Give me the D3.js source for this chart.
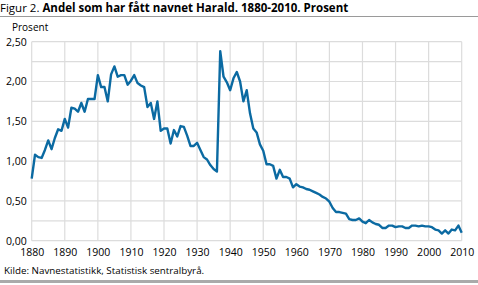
<!DOCTYPE html>
<html><head><meta charset="utf-8">
<script src="https://cdn.jsdelivr.net/npm/d3@7"></script>
<style>body{margin:0;background:#fff}svg{display:block}text{font-family:"Open Sans","Noto Sans",sans-serif}</style>
</head><body>
<script>
const startYear = 1880;
const values1880s = [0.78,1.08,1.05,1.04,1.14,1.26,1.15,1.29,1.40,1.38];
const values1890s = [1.53,1.42,1.67,1.66,1.62,1.73,1.62,1.78,1.78,1.78];
const values1900s = [2.08,1.93,1.93,1.75,2.09,2.19,2.06,2.08,2.08,1.96];
const values1910s = [2.01,2.08,1.98,1.95,1.93,1.68,1.73,1.53,1.75,1.38];
const values1920s = [1.41,1.41,1.22,1.39,1.31,1.44,1.43,1.32,1.19,1.19];
const values1930s = [1.23,1.14,1.05,1.02,0.95,0.90,0.87,2.38,2.06,1.99];
const values1940s = [1.89,2.04,2.12,2.00,1.75,1.89,1.60,1.41,1.36,1.21];
const values1950s = [1.13,0.96,0.96,0.94,0.78,0.89,0.80,0.80,0.78,0.67];
const values1960s = [0.71,0.68,0.67,0.65,0.64,0.62,0.60,0.58,0.55,0.53];
const values1970s = [0.49,0.41,0.36,0.36,0.35,0.34,0.27,0.26,0.26,0.28];
const values1980s = [0.24,0.22,0.26,0.23,0.21,0.20,0.16,0.16,0.19,0.19];
const values1990s = [0.17,0.18,0.18,0.16,0.16,0.19,0.19,0.18,0.19,0.18];
const values2000s = [0.18,0.17,0.14,0.13,0.09,0.13,0.09,0.14,0.13,0.19,0.10];
const yTickValues = [0,0.5,1,1.5,2,2.5];
const yGridValues = [0,0.25,0.5,0.75,1,1.25,1.5,1.75,2,2.25,2.5];
const xTickValues = [1880,1890,1900,1910,1920,1930,1940,1950,1960,1970,1980,1990,2000,2010];
const titlePrefix = "Figur 2. ";
const titleMain = "Andel som har fått navnet Harald. 1880-2010. Prosent";
const yLabel = "Prosent";
const sourceText = "Kilde: Navnestatistikk, Statistisk sentralbyrå.";

const allValues = [].concat(values1880s,values1890s,values1900s,values1910s,values1920s,values1930s,values1940s,values1950s,values1960s,values1970s,values1980s,values1990s,values2000s);
const data = allValues.map((v,i)=>({year:startYear+i, value:v}));

const W=478,H=285;
const svg=d3.select("body").append("svg").attr("width",W).attr("height",H);
const x=d3.scaleLinear().domain([1880,2010]).range([31.7,461.7]);
const y=d3.scaleLinear().domain([0,2.5]).range([240.7,41.7]);
const fmt=v=>d3.format(".2f")(v).replace(".",",");

// title
const t=svg.append("text").attr("x",0).attr("y",11.5).attr("font-size",11.5).attr("fill","#000");
t.append("tspan").text(titlePrefix);
t.append("tspan").attr("font-weight","bold").text(titleMain);
svg.append("line").attr("x1",0).attr("x2",W).attr("y1",16.5).attr("y2",16.5).attr("stroke","#9a9a9a").attr("stroke-width",1);

svg.append("text").attr("x",12).attr("y",31).attr("font-size",10).text(yLabel);

// grid
const g=svg.append("g");
g.selectAll(".hg").data(yGridValues).join("line")
  .attr("x1",x(1880)).attr("x2",x(2010)).attr("y1",d=>y(d)).attr("y2",d=>y(d))
  .attr("stroke","#dcdcdc").attr("stroke-width",1.2);
g.selectAll(".vg").data(xTickValues).join("line")
  .attr("x1",d=>x(d)).attr("x2",d=>x(d)).attr("y1",y(2.5)).attr("y2",y(0))
  .attr("stroke","#dcdcdc").attr("stroke-width",1.2);

// y axis labels
const yAxis=d3.axisLeft(y).tickValues(yTickValues).tickFormat(fmt).tickSize(0).tickPadding(5);
const ya=svg.append("g").attr("transform",`translate(${x(1880)},0)`).call(yAxis);
ya.select(".domain").remove();
ya.selectAll("text").attr("font-size",10.5).attr("font-family","'Open Sans',sans-serif").attr("fill","#000");

// x axis labels
const xAxis=d3.axisBottom(x).tickValues(xTickValues).tickFormat(d3.format("d")).tickSize(0).tickPadding(8);
const xa=svg.append("g").attr("transform",`translate(0,${y(0)})`).call(xAxis);
xa.select(".domain").remove();
xa.selectAll("text").attr("font-size",10.5).attr("font-family","'Open Sans',sans-serif").attr("fill","#000");

// line
const line=d3.line().x(d=>x(d.year)).y(d=>y(d.value));
svg.append("path").datum(data).attr("d",line).attr("fill","none")
  .attr("stroke","#0b6aa2").attr("stroke-width",2.4).attr("stroke-linejoin","round");

svg.append("text").attr("x",4).attr("y",274).attr("font-size",9.8).text(sourceText);
svg.append("rect").attr("x",0).attr("y",280).attr("width",W).attr("height",3).attr("fill","#aaaaaa");
</script>
</body></html>
